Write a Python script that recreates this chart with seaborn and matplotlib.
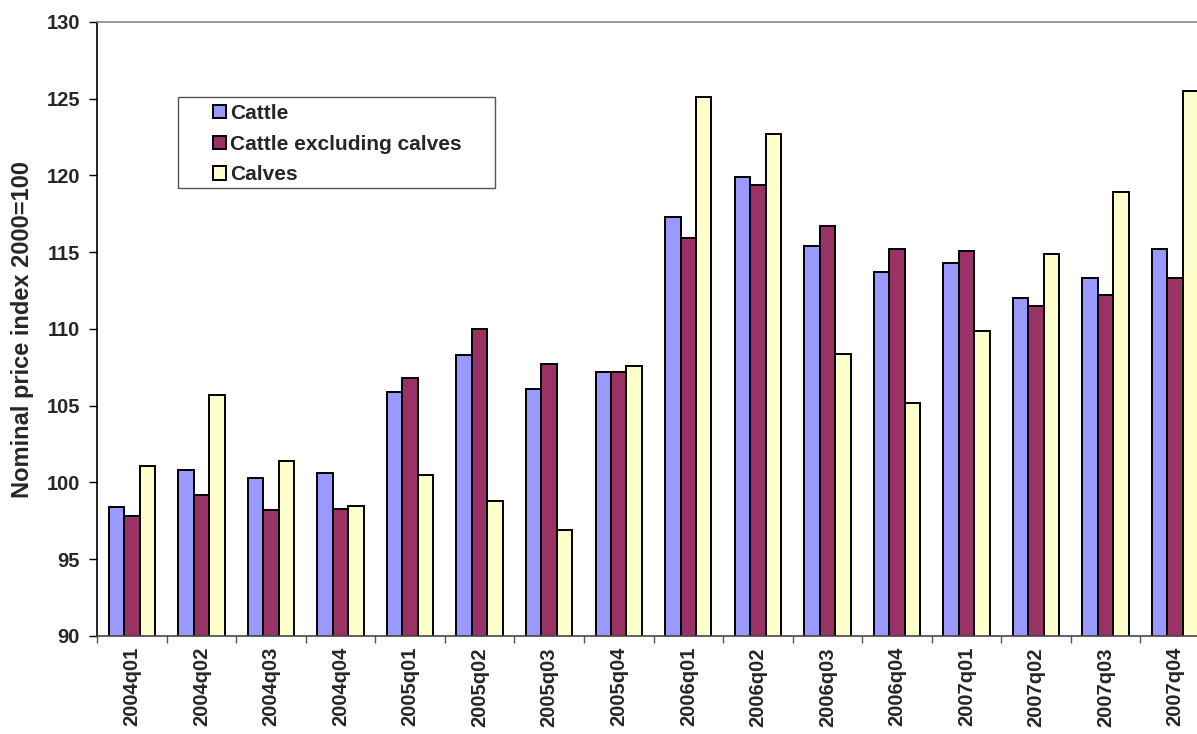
import matplotlib
matplotlib.use("Agg")
import matplotlib.pyplot as plt
from matplotlib.patches import Rectangle
import seaborn as sns
import pandas as pd
import numpy as np

quarters = ["2004q01", "2004q02", "2004q03", "2004q04",
            "2005q01", "2005q02", "2005q03", "2005q04",
            "2006q01", "2006q02", "2006q03", "2006q04",
            "2007q01", "2007q02", "2007q03", "2007q04"]
cattle = [98.4, 100.8, 100.3, 100.6, 105.9, 108.3, 106.1, 107.2,
          117.3, 119.9, 115.4, 113.7, 114.3, 112.0, 113.3, 115.2]
cattle_excl_calves = [97.8, 99.2, 98.2, 98.3, 106.8, 110.0, 107.7, 107.2,
                      115.9, 119.4, 116.7, 115.2, 115.1, 111.5, 112.2, 113.3]
calves = [101.1, 105.7, 101.4, 98.5, 100.5, 98.8, 96.9, 107.6,
          125.1, 122.7, 108.4, 105.2, 109.9, 114.9, 118.9, 125.5]

series_names = ["Cattle", "Cattle excluding calves", "Calves"]
series_colors = ["#9999FF", "#993366", "#FFFFCC"]

df = pd.DataFrame({
    "quarter": quarters * 3,
    "series": np.repeat(series_names, len(quarters)),
    "value": cattle + cattle_excl_calves + calves,
})

sns.set_style("white")
plt.rcParams["font.family"] = ["Liberation Sans", "DejaVu Sans"]
plt.rcParams["font.weight"] = "bold"

W, H = 1197, 734
fig = plt.figure(figsize=(W / 100, H / 100), dpi=100)
ax = fig.add_axes([97 / W, (H - 636) / H, (1210 - 97) / W, (636 - 22) / H])

sns.barplot(data=df, x="quarter", y="value", hue="series",
            order=quarters, hue_order=series_names,
            palette=series_colors, width=3 / 4.5,
            edgecolor="black", linewidth=1.4, saturation=1,
            errorbar=None, ax=ax)

# bars start from the axis floor at 90
ax.set_ylim(90, 130)
ax.set_xlim(-0.5, len(quarters) - 0.5)
ax.set_yticks(np.arange(90, 131, 5))
ax.tick_params(axis="y", direction="out", length=5.8, width=1, color="black",
               labelsize=14.5, pad=6.5, left=True)
for lbl in ax.get_yticklabels():
    lbl.set_fontweight("bold")

ax.set_xticks(range(len(quarters)))
ax.set_xticklabels(quarters, rotation=90, fontsize=14.5, fontweight="bold")
ax.tick_params(axis="x", which="major", length=0, pad=8)
ax.set_xticks(np.arange(-0.5, len(quarters), 1), minor=True)
ax.tick_params(axis="x", which="minor", direction="out", length=5,
               width=1, color="#555555", bottom=True)

ax.set_xlabel("")
ax.set_ylabel("Nominal price index 2000=100", fontsize=17,
              fontweight="bold", labelpad=9)

ax.spines["left"].set_color("black")
ax.spines["left"].set_linewidth(1.2)
ax.spines["bottom"].set_color("#444444")
ax.spines["bottom"].set_linewidth(1.2)
ax.spines["top"].set_color("#888888")
ax.spines["top"].set_linewidth(1.2)
ax.spines["right"].set_visible(False)
ax.grid(False)

# legend frame (pixel box) with the entries placed inside it
frame = Rectangle((178 / W, (H - 188) / H), (495 - 178) / W, (188 - 97) / H,
                  transform=fig.transFigure, facecolor="white",
                  edgecolor="#555555", linewidth=1.0, zorder=4, clip_on=False)
ax.add_patch(frame)
handles, labels = ax.get_legend_handles_labels()
leg = ax.legend(handles, labels, loc="upper left",
                bbox_to_anchor=(213 / W, (H - 104) / H),
                bbox_transform=fig.transFigure,
                frameon=False,
                prop={"weight": "bold", "size": 15},
                handlelength=0.62, handleheight=0.62, handletextpad=0.22,
                labelspacing=0.56, borderpad=0, borderaxespad=0)
leg.set_zorder(6)
for t in leg.get_texts():
    t.set_fontweight("bold")

fig.savefig("out.png", dpi=100)
